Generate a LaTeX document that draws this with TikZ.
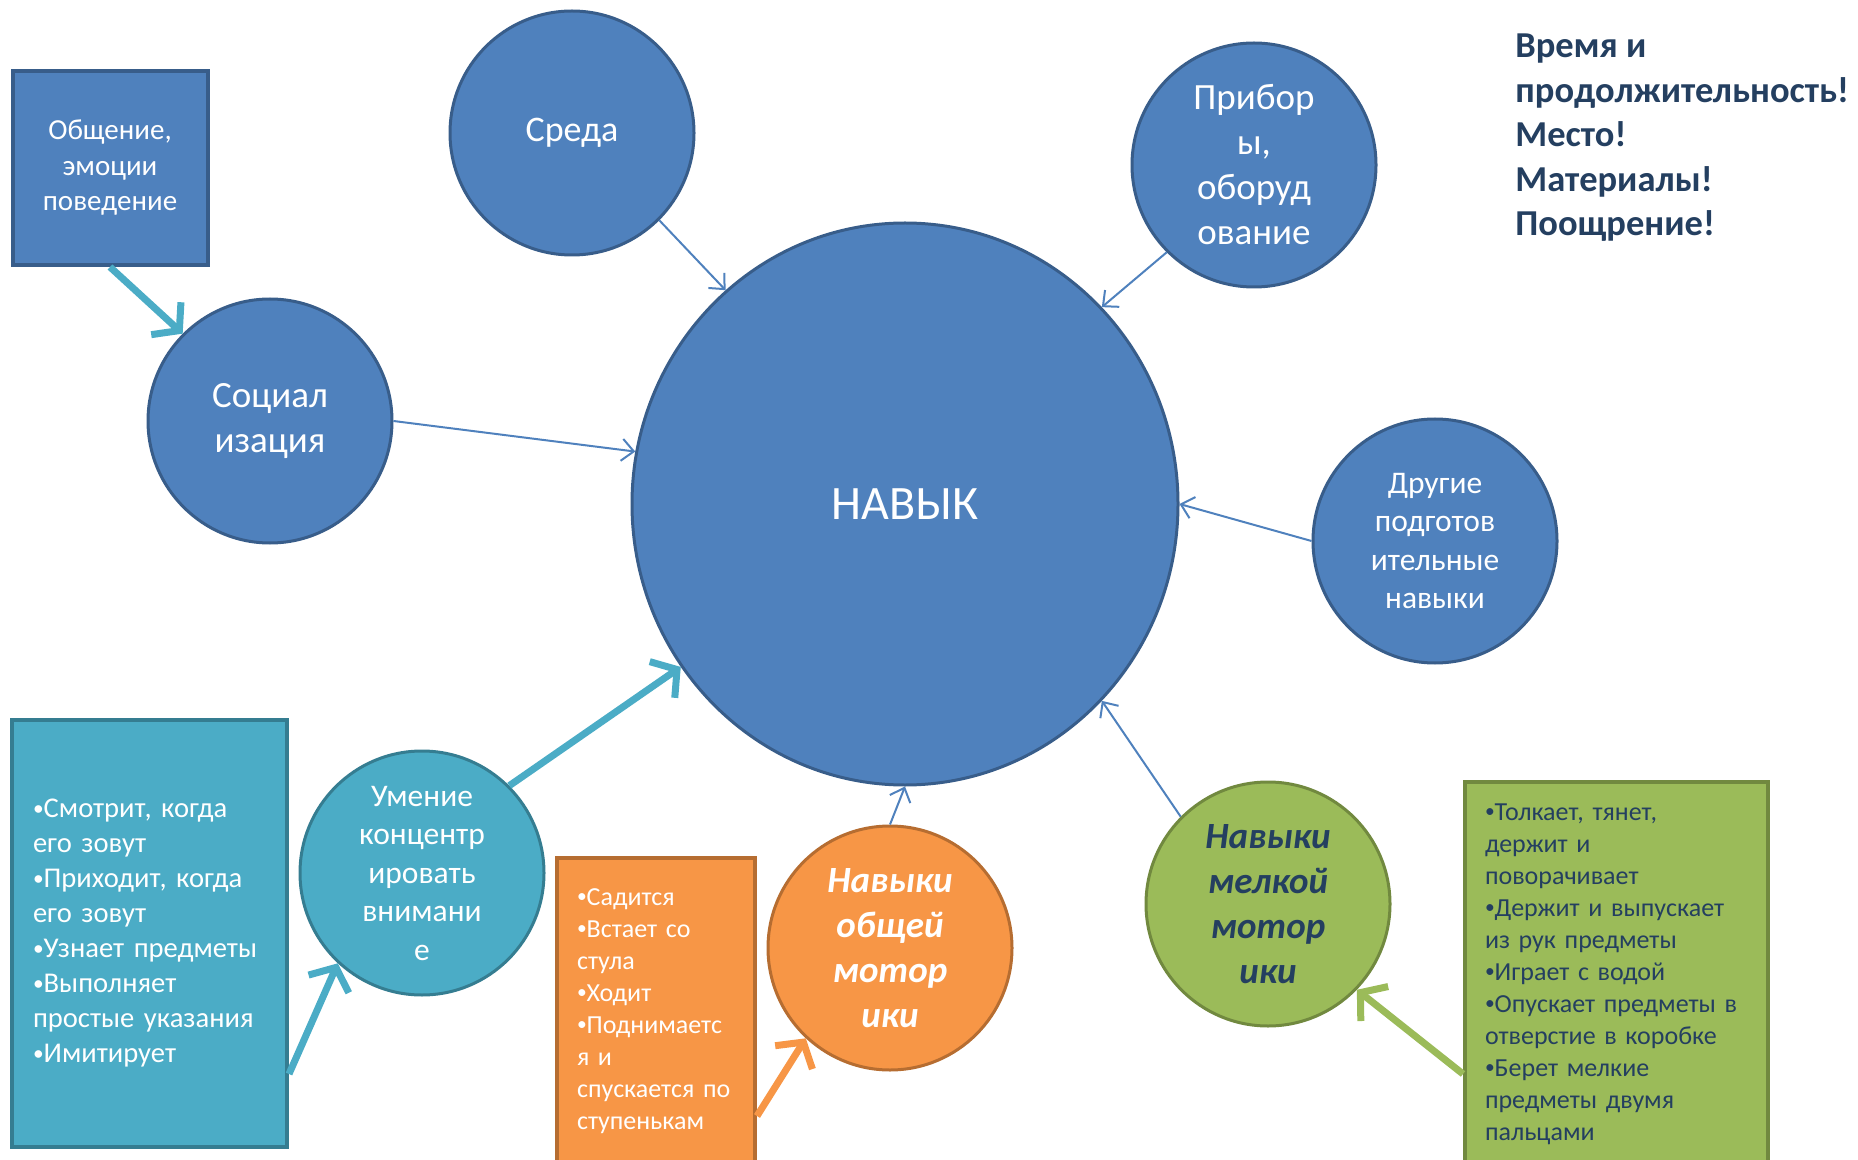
\documentclass[tikz,border=0pt]{standalone}
\usepackage{fontspec}
\usepackage{graphicx}
\setmainfont{Carlito}
\usetikzlibrary{arrows.meta,shapes.geometric,calc}
\definecolor{blueF}{HTML}{4F81BD}
\definecolor{blueD}{HTML}{385D8A}
\definecolor{cyanF}{HTML}{4BACC6}
\definecolor{cyanD}{HTML}{357D91}
\definecolor{orF}{HTML}{F79646}
\definecolor{orD}{HTML}{B66D31}
\definecolor{grF}{HTML}{9BBB59}
\definecolor{grD}{HTML}{71893F}
\definecolor{navy}{HTML}{243F60}
\newcommand\bl{\raisebox{0.1em}{\scalebox{0.75}{•}}}
\begin{document}
\begin{tikzpicture}[x=0.5pt,y=-0.5pt,
  circbase/.style={circle, line width=1.5pt, minimum size=122pt, inner sep=0pt, align=center},
  bcirc/.style={circbase, fill=blueF, draw=blueD, text=white},
  ccirc/.style={circbase, fill=cyanF, draw=cyanD, text=white},
  ocirc/.style={circbase, fill=orF, draw=orD, text=white},
  gcirc/.style={circbase, fill=grF, draw=grD, text=navy},
  bigfont/.style={font=\fontsize{18.5}{22.5}\selectfont},
  midfont/.style={font=\fontsize{15.75}{19.25}\selectfont},
  motorfont/.style={font=\bfseries\itshape\fontsize{18.5}{22.5}\selectfont},
  listbox/.style={rectangle, line width=2pt, align=left, inner ysep=0pt},
  thinarr/.style={draw=blueF, line width=1pt, -{Straight Barb[length=6pt,width=11pt]}},
  thickarr/.style={line width=3.5pt, -{Straight Barb[length=9pt,width=22pt]}}
]
\useasboundingbox (0,0) rectangle (1858,1160);

% nodes
\node[rectangle, fill=blueF, draw=blueD, line width=2pt, text=white, align=center,
  minimum width=97.5pt, minimum height=97pt, inner sep=0pt,
  font=\fontsize{14.5}{17.75}\selectfont] (obsh) at (110,168) {Общение,\\эмоции\\поведение};

\node[bcirc, font=\fontsize{18}{22}\selectfont] (sreda) at (572,133) {Среда};
\node[bcirc, bigfont] (prib) at (1254,165) {Прибор\\ы,\\оборуд\\ование};
\node[bcirc, bigfont] (soc) at (270,421) {Социал\\изация};
\node[ellipse, fill=blueF, draw=blueD, line width=1.5pt, text=white,
  minimum width=273pt, minimum height=281pt, inner sep=0pt,
  font=\fontsize{24}{28}\selectfont] (skill) at (905,504) {НАВЫК};
\node[bcirc, midfont] (other) at (1435,541) {Другие\\подготов\\ительные\\навыки};
\node[ccirc, midfont] (att) at (422,873) {Умение\\концентр\\ировать\\внимани\\е};
\node[ocirc, motorfont] (gross) at (890,948) {Навыки\\общей\\мотор\\ики};
\node[gcirc, motorfont] (fine) at (1268,904) {Навыки\\мелкой\\мотор\\ики};

\node[listbox, fill=cyanF, draw=cyanD, text=white, inner xsep=10.5pt, text width=116.5pt,
  minimum height=213.5pt, font=\fontsize{14.3}{17.5}\selectfont] (cyanbox) at (149.5,933.5)
  {\bl Смотрит, когда\\его зовут\\\bl Приходит, когда\\его зовут\\\bl Узнает предметы\\\bl Выполняет\\простые указания\\\bl Имитирует};

\node[listbox, fill=orF, draw=orD, text=white, inner xsep=10pt, text width=79pt,
  minimum height=153pt, font=\fontsize{13}{16}\selectfont] (orbox) at (656,1011)
  {\bl Садится\\\bl Встает со\\стула\\\bl Ходит\\\bl Поднимаетс\\я и\\спускается по\\ступенькам};

\node[listbox, fill=grF, draw=grD, text=navy, inner xsep=10pt, text width=131.5pt,
  minimum height=192pt, font=\fontsize{13}{16}\selectfont] (grbox) at (1616.5,974)
  {\bl Толкает, тянет,\\держит и\\поворачивает\\\bl Держит и выпускает\\из рук предметы\\\bl Играет с водой\\\bl Опускает предметы в\\отверстие в коробке\\\bl Берет мелкие\\предметы двумя\\пальцами};

\node[anchor=west, align=left, inner sep=0pt, text=navy,
  font=\bfseries\fontsize{18.25}{22.25}\selectfont] (note) at (1515,138)
  {Время и\\продолжительность!\\Место!\\Материалы!\\Поощрение!};

% connector start points
\coordinate (c1) at ($(cyanbox.south east)+(0,-75)$);
\coordinate (c2) at ($(orbox.south east)+(0,-50)$);
\coordinate (c3) at ($(grbox.south west)+(0,-94)$);

% connectors
\draw[thickarr, draw=cyanF] (obsh.south) -- (soc.135);
\draw[thinarr] (sreda.-45) -- (skill.130);
\draw[thinarr] (prib.-135) -- (skill.45);
\draw[thinarr] (soc.0) -- (skill.169);
\draw[thinarr] (other.180) -- (skill.0);
\draw[thickarr, draw=cyanF] (att.45) -- (skill.-144);
\draw[thickarr, draw=cyanF] (c1) -- (att.-133);
\draw[thinarr] (gross.90) -- (skill.-90);
\draw[thickarr, draw=orF] (c2) -- (gross.-133);
\draw[thinarr] (fine.135) -- (skill.-45);
\draw[thickarr, draw=grF] (c3) -- (fine.-44);
\end{tikzpicture}
\end{document}
